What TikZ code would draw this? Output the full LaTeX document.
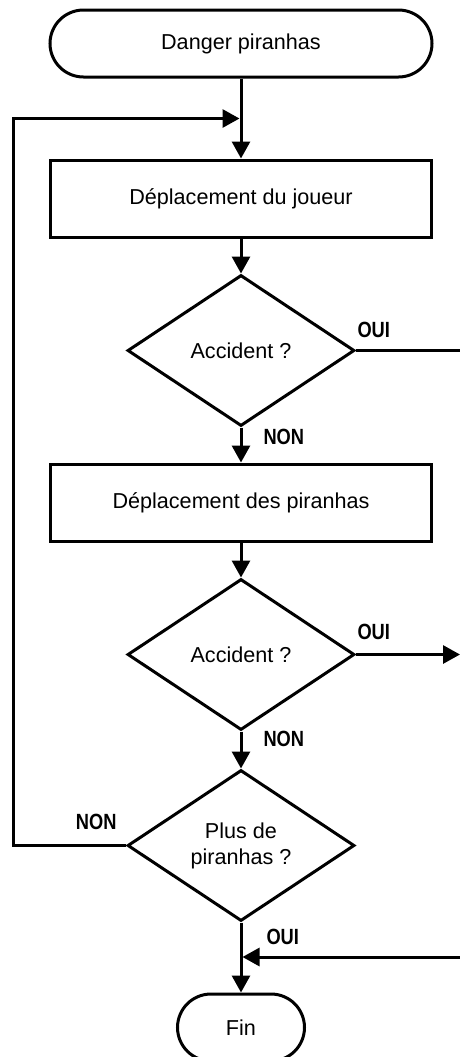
\documentclass[tikz,border=0pt]{standalone}
\usepackage{fontspec}
\setmainfont{Liberation Sans}
\usetikzlibrary{shapes.geometric,arrows.meta,calc}
\newcommand{\antw}[1]{\scalebox{0.83}[1]{\fontsize{11}{13}\selectfont\bfseries #1}}

\begin{document}
\begin{tikzpicture}[
		>={Triangle[length=8.5pt,width=9pt]},	% Pfeilspitzen
		line width=1.5pt,						% Linienstärke
		inner sep=0pt,						% Abstand zwischen Text und Rahmen
		node distance=76pt,					% Abstand zwischen den Knoten
		font=\fontsize{10.8}{13}\selectfont,	% Schrift
		terminal/.style={draw, rectangle, rounded corners=16.75pt, minimum height=33.5pt},
		aktion/.style={draw, rectangle, minimum width=190.5pt, minimum height=38.5pt},
		frage/.style={draw, diamond, minimum width=113.5pt, minimum height=75.5pt, align=center}
	]
	\useasboundingbox (0,0) rectangle (230pt,-528.5pt);

	% Knoten
	\node[terminal, minimum width=191pt] (start) at (120.5pt,-21.75pt) {Danger piranhas};
	\node[aktion, below of=start, node distance=77.5pt] (joueur) {Déplacement du joueur};
	\node[frage, below of=joueur] (acc1) {Accident ?};
	\node[aktion, below of=acc1] (piranhas) {Déplacement des piranhas};
	\node[frage, below of=piranhas] (acc2) {Accident ?};
	\node[frage, below of=acc2, node distance=95.5pt] (plus) {Plus de\\piranhas ?};
	\node[terminal, minimum width=63.5pt, below of=plus, node distance=91pt] (fin) {Fin};

	% Hilfspunkte
	\coordinate (rand) at (230pt,0);
	\coordinate (schleife) at ($(start.south)!.5!(joueur.north)$);
	\coordinate (retour) at (230pt,-478.5pt);

	% Hauptpfad
	\draw[->] (start) -- (joueur);
	\draw[->] (joueur) -- (acc1);
	\draw[->] (acc1) -- (piranhas);
	\draw[->] (piranhas) -- (acc2);
	\draw[->] (acc2) -- (plus);
	\draw[->] (plus) -- (fin);

	% Ausgänge rechts
	\draw (acc1.east) -- (acc1.east -| rand);
	\draw[->] (acc2.east) -- (acc2.east -| rand);
	\draw[->, shorten >=0.75pt] (retour) -- (retour -| fin);

	% Schleife links
	\draw[->, shorten >=0.75pt] (plus.west) -- ++(-56.25pt,0) |- (schleife);

	% Antworten
	\node[anchor=south west] (oui1) at ([yshift=5.5pt]acc1.east) {\antw{OUI}};
	\node[anchor=north west] (non1) at ([xshift=10.5pt]acc1.south) {\antw{NON}};
	\node[anchor=south west] (oui2) at ([yshift=6.5pt]acc2.east) {\antw{OUI}};
	\node[anchor=north west] (non2) at ([xshift=10.5pt,yshift=1pt]acc2.south) {\antw{NON}};
	\node[anchor=south east] (non3) at ([xshift=-4pt,yshift=7pt]plus.west) {\antw{NON}};
	\node[anchor=north west] (oui3) at ([xshift=12pt,yshift=-2.5pt]plus.south) {\antw{OUI}};
\end{tikzpicture}
\end{document}
